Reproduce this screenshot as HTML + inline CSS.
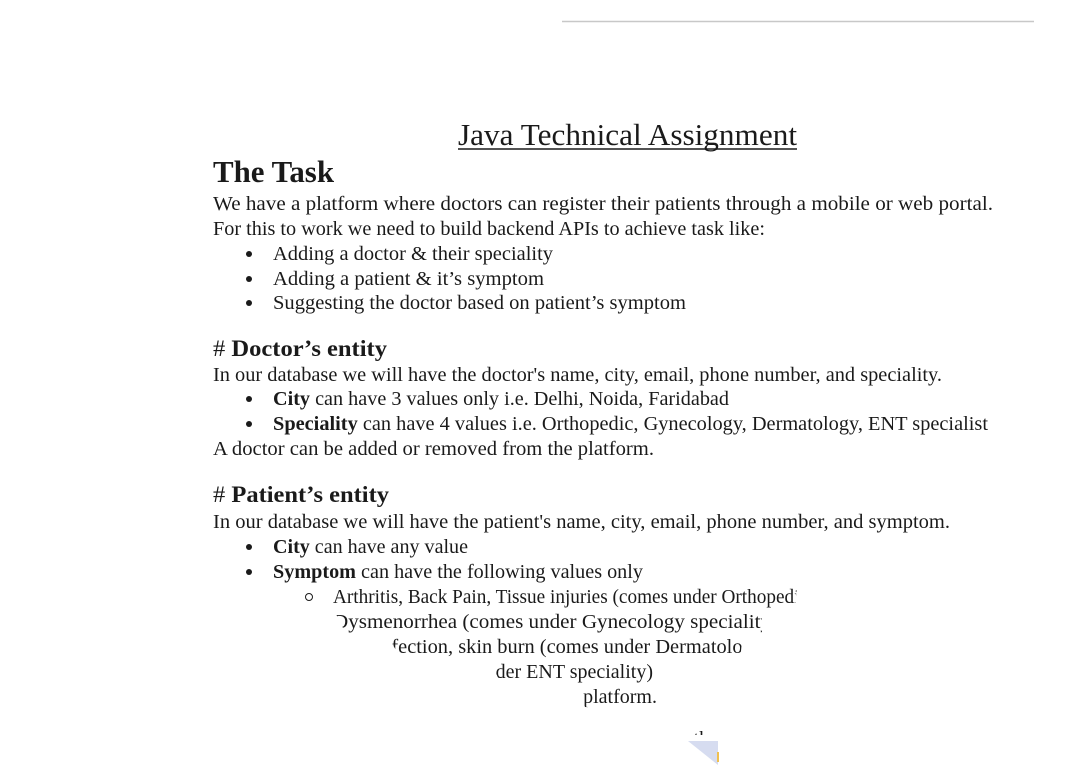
<!DOCTYPE html>
<html><head><meta charset="utf-8"><style>
html,body{margin:0;padding:0;background:#fff;width:1070px;height:765px;overflow:hidden}
svg{display:block}
text{font-family:"Liberation Serif",serif;fill:#1a1a1a}
</style></head><body>
<svg width="1070" height="765" viewBox="0 0 1070 765" xmlns="http://www.w3.org/2000/svg">
<line x1="562" y1="21.5" x2="1034" y2="21.5" stroke="#c8c8c8" stroke-width="1.5"/>
<text x="458" y="145" font-size="31" textLength="339" lengthAdjust="spacingAndGlyphs">Java Technical Assignment</text>
<line x1="458" y1="149" x2="797" y2="149" stroke="#1a1a1a" stroke-width="1.5"/>
<text x="213" y="182" font-size="31" font-weight="bold" textLength="121" lengthAdjust="spacingAndGlyphs">The Task</text>
<g font-size="20">
<text x="213" y="210" textLength="780" lengthAdjust="spacingAndGlyphs">We have a platform where doctors can register their patients through a mobile or web portal.</text>
<text x="213" y="235" textLength="552" lengthAdjust="spacingAndGlyphs">For this to work we need to build backend APIs to achieve task like:</text>
<circle cx="249" cy="254" r="3" fill="#1a1a1a"/><text x="273" y="260" textLength="280" lengthAdjust="spacingAndGlyphs">Adding a doctor &amp; their speciality</text>
<circle cx="249" cy="279" r="3" fill="#1a1a1a"/><text x="273" y="285" textLength="271" lengthAdjust="spacingAndGlyphs">Adding a patient &amp; it’s symptom</text>
<circle cx="249" cy="303" r="3" fill="#1a1a1a"/><text x="273" y="309" textLength="413" lengthAdjust="spacingAndGlyphs">Suggesting the doctor based on patient’s symptom</text>
<text x="213" y="356" font-size="23" textLength="174" lengthAdjust="spacingAndGlyphs"># <tspan font-weight="bold">Doctor’s entity</tspan></text>
<text x="213" y="381" textLength="729" lengthAdjust="spacingAndGlyphs">In our database we will have the doctor's name, city, email, phone number, and speciality.</text>
<circle cx="249" cy="399" r="3" fill="#1a1a1a"/><text x="273" y="405" textLength="456" lengthAdjust="spacingAndGlyphs"><tspan font-weight="bold">City</tspan> can have 3 values only i.e. Delhi, Noida, Faridabad</text>
<circle cx="249" cy="424" r="3" fill="#1a1a1a"/><text x="273" y="430" textLength="715" lengthAdjust="spacingAndGlyphs"><tspan font-weight="bold">Speciality</tspan> can have 4 values i.e. Orthopedic, Gynecology, Dermatology, ENT specialist</text>
<text x="213" y="455" textLength="441" lengthAdjust="spacingAndGlyphs">A doctor can be added or removed from the platform.</text>
<text x="213" y="502" font-size="23" textLength="176" lengthAdjust="spacingAndGlyphs"># <tspan font-weight="bold">Patient’s entity</tspan></text>
<text x="213" y="528" textLength="737" lengthAdjust="spacingAndGlyphs">In our database we will have the patient's name, city, email, phone number, and symptom.</text>
<circle cx="249" cy="547" r="3" fill="#1a1a1a"/><text x="273" y="553" textLength="195" lengthAdjust="spacingAndGlyphs"><tspan font-weight="bold">City</tspan> can have any value</text>
<circle cx="249" cy="572" r="3" fill="#1a1a1a"/><text x="273" y="578" textLength="370" lengthAdjust="spacingAndGlyphs"><tspan font-weight="bold">Symptom</tspan> can have the following values only</text>
<circle cx="309" cy="597" r="3.5" fill="none" stroke="#1a1a1a" stroke-width="1"/>
<text x="333" y="603" textLength="560" lengthAdjust="spacingAndGlyphs">Arthritis, Back Pain, Tissue injuries (comes under Orthopedic speciality)</text>
<text x="333" y="628" textLength="445" lengthAdjust="spacingAndGlyphs">Dysmenorrhea (comes under Gynecology speciality)</text>
<text x="333" y="653" textLength="520" lengthAdjust="spacingAndGlyphs">Skin infection, skin burn (comes under Dermatology speciality)</text>
<text x="653" y="678" text-anchor="end">Ear pain (comes under ENT speciality)</text>
<text x="657" y="703" text-anchor="end">A patient can be added or removed from the platform.</text>
<text x="718" y="745" text-anchor="end">Suggesting the</text>
</g>
<polygon points="0,588 300,588 300,612 335,612 345,632 390,640 400,657 490,660 500,682 575,685 585,707 685,712 690,735 718,735 718,765 0,765" fill="#fff"/>
<polygon points="797,585 1070,585 1070,765 718,765 718,740 740,662 742,640 762,632 762,612 795,608" fill="#fff"/>
<polygon points="688,741 718,741 718,765" fill="#d6dcf0"/>
<rect x="717" y="752" width="2" height="10" fill="#f0c050"/>
</svg>
</body></html>
